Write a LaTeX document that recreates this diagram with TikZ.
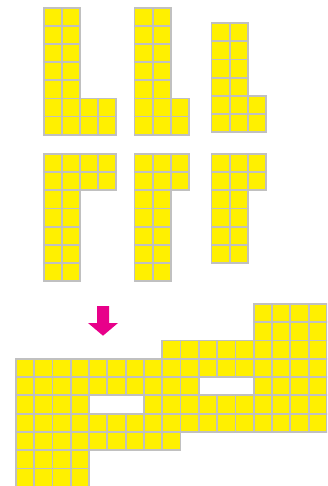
\documentclass[tikz,border=0pt]{standalone}
\definecolor{cellyellow}{HTML}{FFF000}
\definecolor{cellgray}{HTML}{C0C0C0}
\definecolor{arrowmag}{HTML}{E8008A}
\tikzset{cell/.style={fill=cellyellow, draw=cellgray, line width=1.8pt}}
\begin{document}
\begin{tikzpicture}[x=1pt,y=-1pt]
\useasboundingbox (0,0) rectangle (327,486);
\clip (0,0) rectangle (327,486);
% top row shapes (s = 18.15)
\def\s{18.15}
% shape 1
\foreach \r/\a/\b in {0/0/1,1/0/1,2/0/1,3/0/1,4/0/1,5/0/3,6/0/3}
  {\foreach \c in {\a,...,\b}{\draw[cell] ({43.7+\c*\s},{7.7+\r*\s}) rectangle ++(\s,\s);}}
% shape 2
\foreach \r/\a/\b in {0/0/1,1/0/1,2/0/1,3/0/1,4/0/1,5/0/2,6/0/2}
  {\foreach \c in {\a,...,\b}{\draw[cell] ({134.5+\c*\s},{7.7+\r*\s}) rectangle ++(\s,\s);}}
% shape 3
\foreach \r/\a/\b in {0/0/1,1/0/1,2/0/1,3/0/1,4/0/2,5/0/2}
  {\foreach \c in {\a,...,\b}{\draw[cell] ({211.5+\c*\s},{23.2+\r*\s}) rectangle ++(\s,\s);}}
% shape 4
\foreach \r/\a/\b in {0/0/3,1/0/3,2/0/1,3/0/1,4/0/1,5/0/1,6/0/1}
  {\foreach \c in {\a,...,\b}{\draw[cell] ({43.7+\c*\s},{154+\r*\s}) rectangle ++(\s,\s);}}
% shape 5
\foreach \r/\a/\b in {0/0/2,1/0/2,2/0/1,3/0/1,4/0/1,5/0/1,6/0/1}
  {\foreach \c in {\a,...,\b}{\draw[cell] ({134.5+\c*\s},{154+\r*\s}) rectangle ++(\s,\s);}}
% shape 6
\foreach \r/\a/\b in {0/0/2,1/0/2,2/0/1,3/0/1,4/0/1,5/0/1}
  {\foreach \c in {\a,...,\b}{\draw[cell] ({211.5+\c*\s},{154+\r*\s}) rectangle ++(\s,\s);}}
% arrow
\fill[arrowmag] (97,306) -- (109,306) -- (109,323) -- (118,323) -- (103,335.7)
  -- (88,323) -- (97,323) -- cycle;
% assembled figure (s = 18.3)
\def\t{18.3}
\foreach \r/\a/\b in {0/13/16,1/13/16,2/8/16,3/0/16,4/0/9,4/13/16,5/0/3,5/7/16,6/0/16,7/0/8,8/0/3,9/0/3}
  {\foreach \c in {\a,...,\b}{\draw[cell] ({15.8+\c*\t},{303.8+\r*\t}) rectangle ++(\t,\t);}}
\end{tikzpicture}
\end{document}
